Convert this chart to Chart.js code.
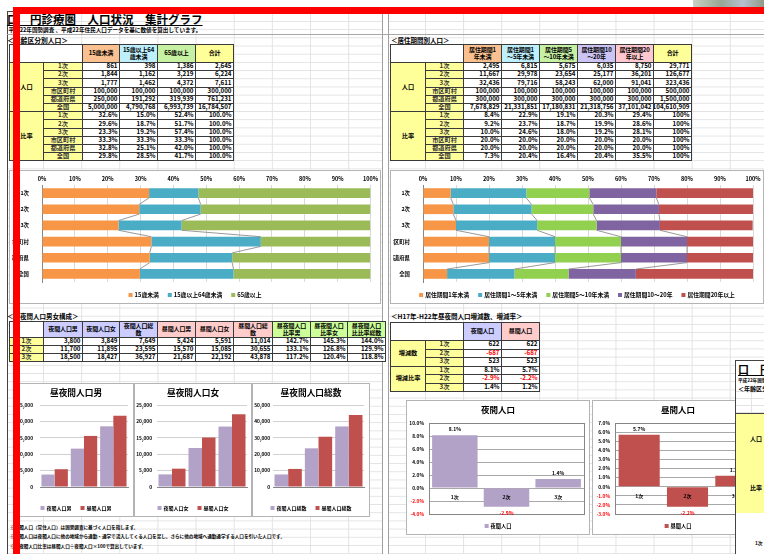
<!DOCTYPE html>
<html lang="ja">
<head>
<meta charset="utf-8">
<script src="https://cdn.jsdelivr.net/npm/chart.js@4.4.1/dist/chart.umd.min.js"></script>
<style>
html,body{margin:0;padding:0;}
body{width:764px;height:554px;overflow:hidden;position:relative;background:#fff;font-family:'Noto Sans CJK JP','Noto Sans',sans-serif;}
.a{position:absolute;}
.grid{position:absolute;background-image:linear-gradient(to right,#e3e3e3 1px,transparent 1px),linear-gradient(to bottom,#e3e3e3 1px,transparent 1px);}
.c{position:absolute;box-sizing:border-box;border:1px solid #3a3a3a;display:flex;align-items:center;font-weight:bold;font-size:6.2px;line-height:6.8px;overflow:hidden;white-space:pre-line;padding:0 1.5px;color:#000;}
.c.h{font-size:6px;letter-spacing:-0.15px;padding:0 0.5px;}
.frame{position:absolute;box-sizing:border-box;border:1px solid #b4b4b4;background:#fff;}
canvas{position:absolute;}
.t{position:absolute;white-space:nowrap;font-weight:bold;color:#000;}
.ov{z-index:10;}
</style>
</head>
<body>
<div class="grid" style="left:7px;top:11px;width:375px;height:543px;background-size:38.15px 100%,100% 8.2px;background-position:36px 0,0 1.8px"></div>
<div class="grid" style="left:388px;top:11px;width:376px;height:543px;background-size:38.1px 100%,100% 8.2px;background-position:37px 0,0 1.8px"></div>
<div class="a" style="left:7px;top:11px;width:1px;height:543px;background:#444"></div>
<div class="a" style="left:7px;top:11px;width:757px;height:1px;background:#444"></div>
<div class="a" style="left:7px;top:34px;width:757px;height:1px;background:#a8a8a8"></div>
<div class="a" style="left:382px;top:11px;width:1px;height:543px;background:#a0a0a0"></div>
<div class="a" style="left:388px;top:11px;width:1px;height:543px;background:#a0a0a0"></div>

<div class="t" style="left:7px;top:12px;font-size:11.5px;line-height:14px;text-decoration:underline;">口　円診療圏　人口状況　集計グラフ</div>
<div class="t" style="left:8.5px;top:27px;font-size:5.6px;line-height:6px;">平成22年国勢調査 、平成22年住民人口データを基に数値を算出しています。</div>
<div class="t" style="left:7px;top:36.5px;font-size:6.8px;line-height:7px;">＜年齢区分別人口＞</div>
<div class="t" style="left:391px;top:36.5px;font-size:6.5px;line-height:7px;">＜居住期間別人口＞</div>
<div class="t" style="left:7px;top:313px;font-size:6.5px;line-height:7px;">＜昼夜間人口男女構成＞</div>
<div class="t" style="left:391px;top:313px;font-size:6.5px;line-height:7px;">＜H17年-H22年昼夜間人口増減数、増減率＞</div>
<div class="t" style="left:10px;top:524.5px;font-size:4.6px;line-height:5px;">※夜間人口（常住人口）は国勢調査に基づく人口を指します。</div>
<div class="t" style="left:10px;top:534px;font-size:4.6px;line-height:5px;">※昼間人口は夜間人口に他の地域から通勤・通学で流入してくる人口を足し、さらに他の地域へ通勤通学する人口を引いた人口です。</div>
<div class="t" style="left:10px;top:543.5px;font-size:4.6px;line-height:5px;">※昼夜間人口比率は昼間人口÷夜間人口×100で算出しています。</div>

<!-- second window overlay -->
<div class="a ov" style="left:735px;top:360px;width:29px;height:194px;background:#fff;border-left:1px solid #444;border-top:1px solid #444;overflow:hidden;">
  <div class="grid" style="left:0;top:30px;width:40px;height:170px;background-size:20px 100%,100% 7px;background-position:15px 0,0 0"></div>
  <div class="t" style="left:2px;top:2px;font-size:11px;line-height:13px;text-decoration:underline;">口　円</div>
  <div class="t" style="left:2px;top:17px;font-size:4.6px;line-height:5px;">平成22年国勢調査</div>
  <div class="t" style="left:2px;top:24px;font-size:6px;line-height:7px;">＜年齢区分別人口＞</div>
  <div class="a" style="left:0;top:52px;width:40px;height:49px;background:#ffff99;border-top:1px solid #444;border-bottom:1px solid #444;font-weight:bold;font-size:6px;display:flex;align-items:center;justify-content:center;">人口</div>
  <div class="a" style="left:0;top:101px;width:40px;height:51px;background:#ffff99;border-bottom:1px solid #444;font-weight:bold;font-size:6px;display:flex;align-items:center;justify-content:center;">比率</div>
  <div class="a" style="left:0;top:152px;width:40px;height:42px;background:#fff;"></div>
  <div class="t" style="left:19px;top:179px;font-size:4.8px;line-height:5px;">1次</div>
</div>
<div class="a ov" style="left:693px;top:0;width:71px;height:7px;background:linear-gradient(90deg,#c9d1c2,#97a894 40%,#b7c0d0 70%,#8f9a86);"></div>
<div class="a ov" style="left:13px;top:7px;width:751px;height:7px;background:#ff0000"></div>
<div class="a ov" style="left:13px;top:7px;width:7px;height:547px;background:#ff0000"></div>

<script>
// ---------- data ----------
const rowCats = ['1次','2次','3次','市区町村','都道府県','全国'];
const ageGroups = ['15歳未満','15歳以上64歳未満','65歳以上'];
const ageHeaderText = ['15歳未満','15歳以上64\n歳未満','65歳以上','合計'];
const agePopUnder15 = [861,1844,1777,100000,250000,5000000];
const agePop15to64 = [398,1162,1462,100000,191292,4790768];
const agePop65over = [1386,3219,4372,100000,319939,6993739];
const agePopTotal = [2645,6224,7611,300000,761231,16784507];
const ageRatioUnder15 = [32.6,29.6,23.3,33.3,32.8,29.8];
const ageRatio15to64 = [15.0,18.7,19.2,33.3,25.1,28.5];
const ageRatio65over = [52.4,51.7,57.4,33.3,42.0,41.7];
const ageRatioTotal = [100,100,100,100,100,100];

const resGroups = ['居住期間1年未満','居住期間1～5年未満','居住期間5～10年未満','居住期間10～20年','居住期間20年以上'];
const resHeaderText = ['居住期間1\n年未満','居住期間1\n～5年未満','居住期間5\n～10年未満','居住期間10\n～20年','居住期間20\n年以上','合計'];
const resPop1 = [2495,11667,32436,100000,300000,7678829];
const resPop1to5 = [6815,29978,79716,100000,300000,21331851];
const resPop5to10 = [5675,23654,58243,100000,300000,17180831];
const resPop10to20 = [6035,25177,62000,100000,300000,21318756];
const resPop20 = [8750,36201,91041,100000,300000,37101042];
const resPopTotal = [29771,126677,323436,500000,1500000,104610909];
const resRatio1 = [8.4,9.2,10.0,20.0,20.0,7.3];
const resRatio1to5 = [22.9,23.7,24.6,20.0,20.0,20.4];
const resRatio5to10 = [19.1,18.7,18.0,20.0,20.0,16.4];
const resRatio10to20 = [20.3,19.9,19.2,20.0,20.0,20.4];
const resRatio20 = [29.4,28.6,28.1,20.0,20.0,35.5];
const resRatioTotal = [100,100,100,100,100,100];

const dnCats = ['1次','2次','3次'];
const dnHeaderText = ['夜間人口男','夜間人口女','夜間人口総\n数','昼間人口男','昼間人口女','昼間人口総\n数','昼夜間人口\n比率男','昼夜間人口\n比率女','昼夜間人口\n比比率総数'];
const nightMale = [3800,11700,18500];
const nightFemale = [3849,11895,18427];
const nightTotal = [7649,23595,36927];
const dayMale = [5424,15570,21687];
const dayFemale = [5591,15085,22192];
const dayTotal = [11014,30655,43878];
const ratioMale = [142.7,133.1,117.2];
const ratioFemale = [145.3,126.8,120.4];
const ratioTotal = [144.0,129.9,118.8];

const chgHeaderText = ['夜間人口','昼間人口'];
const chgGroups = ['増減数','増減比率'];
const changeNight = [622,-687,523];
const changeDay = [622,-687,523];
const changeRateNight = [8.1,-2.9,1.4];
const changeRateDay = [5.7,-2.2,1.2];

// ---------- styles ----------
const FONT = "'Noto Sans CJK JP','Noto Sans',sans-serif";
const YEL = '#ffff99';
const C_OR = '#F79646', C_AQ = '#4BACC6', C_OL = '#9BBB59', C_GR = '#92D050', C_PU = '#8064A2', C_RD = '#C0504D', C_LAV = '#B3A2C7';
const H_OR = '#FAC090', H_CY = '#BDEFFD', H_GR = '#C6F0A2', H_LV = '#CCC4F4', H_PK = '#FFC8CE', H_LV2 = '#CCCCFF', H_PK2 = '#FFCCCC', H_GR2 = '#CCFF99';

const fmtInt = v => v.toLocaleString('en-US');
const fmtPct1 = v => v.toFixed(1) + '%';

function cell(x,y,w,h,text,bg,align,color,cls){
  const d=document.createElement('div'); d.className='c'+(cls?' '+cls:'');
  d.style.left=x+'px'; d.style.top=y+'px'; d.style.width=(w+1)+'px'; d.style.height=(h+1)+'px';
  d.style.background=bg||'#fff';
  d.style.justifyContent = align==='r'?'flex-end':'center';
  d.style.textAlign = align==='r'?'right':'center';
  if(color) d.style.color=color;
  d.textContent=text;
  document.body.appendChild(d);
}

// ---------- table 1 ----------
(function(){
  const X=[9,43,82,119,157,195,233], hy=44, hh=18, y0=62, rh=8.2;
  cell(X[0],hy,X[2]-X[0],hh,'','#fff');
  const hc=[H_OR,H_CY,H_GR,YEL];
  ageHeaderText.forEach((h,j)=>cell(X[j+2],hy,X[j+3]-X[j+2],hh,h,hc[j],'c',null,'h'));
  cell(X[0],y0,X[1]-X[0],6*rh,'人口',YEL);
  cell(X[0],y0+6*rh,X[1]-X[0],6*rh,'比率',YEL);
  const pc=[agePopUnder15,agePop15to64,agePop65over,agePopTotal];
  const rc=[ageRatioUnder15,ageRatio15to64,ageRatio65over,ageRatioTotal];
  rowCats.forEach((r,i)=>{
    const y=y0+i*rh, y2=y0+(i+6)*rh;
    cell(X[1],y,X[2]-X[1],rh,r,YEL,'c','#333');
    cell(X[1],y2,X[2]-X[1],rh,r,YEL,'c','#333');
    pc.forEach((col,j)=>cell(X[j+2],y,X[j+3]-X[j+2],rh,fmtInt(col[i]),'#fff','r'));
    rc.forEach((col,j)=>cell(X[j+2],y2,X[j+3]-X[j+2],rh,fmtPct1(col[i]),'#fff','r'));
  });
})();

// ---------- table 2 ----------
(function(){
  const X=[390,425,463,501,539,577,615,653,691], hy=44, hh=18, y0=62, rh=8.2;
  cell(X[0],hy,X[2]-X[0],hh,'','#fff');
  const hc=[H_OR,H_CY,H_GR,H_LV,H_PK,YEL];
  resHeaderText.forEach((h,j)=>cell(X[j+2],hy,X[j+3]-X[j+2],hh,h,hc[j],'c',null,'h'));
  cell(X[0],y0,X[1]-X[0],6*rh,'人口',YEL);
  cell(X[0],y0+6*rh,X[1]-X[0],6*rh,'比率',YEL);
  const pc=[resPop1,resPop1to5,resPop5to10,resPop10to20,resPop20,resPopTotal];
  const rc=[resRatio1,resRatio1to5,resRatio5to10,resRatio10to20,resRatio20,resRatioTotal];
  rowCats.forEach((r,i)=>{
    const y=y0+i*rh, y2=y0+(i+6)*rh;
    cell(X[1],y,X[2]-X[1],rh,r,YEL,'c','#333');
    cell(X[1],y2,X[2]-X[1],rh,r,YEL,'c','#333');
    pc.forEach((col,j)=>cell(X[j+2],y,X[j+3]-X[j+2],rh,fmtInt(col[i]),'#fff','r'));
    rc.forEach((col,j)=>cell(X[j+2],y2,X[j+3]-X[j+2],rh,j===5?col[i]+'%':fmtPct1(col[i]),'#fff','r'));
  });
})();

// ---------- table 3 ----------
(function(){
  const X=[9,43,82,119,157,195,233,272,310,347,385], hy=321, hh=16, y0=337, rh=8;
  cell(X[0],hy,X[1]-X[0],hh,'','#fff');
  const hc=[H_LV2,H_LV2,H_LV2,H_PK2,H_PK2,H_PK2,H_GR2,H_GR2,H_GR2];
  dnHeaderText.forEach((h,j)=>cell(X[j+1],hy,X[j+2]-X[j+1],hh,h,hc[j],'c',null,'h'));
  const cols=[nightMale,nightFemale,nightTotal,dayMale,dayFemale,dayTotal,ratioMale,ratioFemale,ratioTotal];
  dnCats.forEach((r,i)=>{
    const y=y0+i*rh;
    cell(X[0],y,X[1]-X[0],rh,r,YEL,'c','#333');
    cols.forEach((col,j)=>cell(X[j+1],y,X[j+2]-X[j+1],rh,j<6?fmtInt(col[i]):fmtPct1(col[i]),'#fff','r'));
  });
})();

// ---------- table 4 ----------
(function(){
  const X=[390,425,463,501,539], hy=322, hh=18, y0=340, rh=8.5;
  cell(X[0],hy,X[2]-X[0],hh,'','#fff');
  const hc=[H_LV2,H_PK2];
  chgHeaderText.forEach((h,j)=>cell(X[j+2],hy,X[j+3]-X[j+2],hh,h,hc[j],'c',null,'h'));
  cell(X[0],y0,X[1]-X[0],3*rh,chgGroups[0],YEL);
  cell(X[0],y0+3*rh,X[1]-X[0],3*rh,chgGroups[1],YEL);
  const cc=[changeNight,changeDay], rc=[changeRateNight,changeRateDay];
  dnCats.forEach((r,i)=>{
    const y=y0+i*rh, y2=y0+(i+3)*rh;
    cell(X[1],y,X[2]-X[1],rh,r,YEL,'c','#333');
    cell(X[1],y2,X[2]-X[1],rh,r,YEL,'c','#333');
    cc.forEach((col,j)=>cell(X[j+2],y,X[j+3]-X[j+2],rh,fmtInt(col[i]),'#fff','r',col[i]<0?'#ff0000':'#000'));
    rc.forEach((col,j)=>cell(X[j+2],y2,X[j+3]-X[j+2],rh,fmtPct1(col[i]),'#fff','r',col[i]<0?'#ff0000':'#000'));
  });
})();

// ---------- chart plugins ----------
Chart.defaults.font.family = FONT;
Chart.defaults.font.weight = 'bold';
Chart.defaults.color = '#000';

const decoPlugin = {
  id:'deco',
  afterDraw(chart, args, opts){
    const ctx=chart.ctx; ctx.save();
    if(opts.titleText){
      ctx.font=`bold ${opts.titleSize}px ${FONT}`; ctx.fillStyle='#000';
      ctx.textAlign='center'; ctx.textBaseline='middle';
      ctx.fillText(opts.titleText, chart.width/2, opts.titleY);
    }
    if(opts.legendY){
      const ds=chart.data.datasets;
      ctx.font=`bold ${opts.legendSize}px ${FONT}`;
      const box=opts.legendBox||4, gap=2, sep=opts.legendSep||8;
      const widths=ds.map(d=>box+gap+ctx.measureText(d.label).width);
      const total=widths.reduce((a,b)=>a+b,0)+sep*(ds.length-1);
      let x=chart.width/2-total/2;
      ds.forEach((d,i)=>{
        ctx.fillStyle=d.backgroundColor;
        ctx.fillRect(x, opts.legendY-box/2, box, box);
        ctx.fillStyle='#000'; ctx.textAlign='left'; ctx.textBaseline='middle';
        ctx.fillText(d.label, x+box+gap, opts.legendY);
        x+=widths[i]+sep;
      });
    }
    ctx.restore();
  }
};
const seriesLines = {
  id:'seriesLines',
  afterDatasetsDraw(chart, args, opts){
    if(!opts.enabled) return;
    const ctx=chart.ctx; ctx.save(); ctx.strokeStyle='#7f7f7f'; ctx.lineWidth=0.8;
    const n=chart.data.datasets.length;
    for(let di=0; di<n-1; di++){
      const meta=chart.getDatasetMeta(di);
      for(let i=0;i<meta.data.length-1;i++){
        const a=meta.data[i], b=meta.data[i+1];
        ctx.beginPath(); ctx.moveTo(a.x, a.y+a.height/2); ctx.lineTo(b.x, b.y-b.height/2); ctx.stroke();
      }
    }
    ctx.restore();
  }
};
const plotBox = {
  id:'plotBox',
  afterDatasetsDraw(chart, args, opts){
    if(!opts.enabled) return;
    const a=chart.chartArea, ctx=chart.ctx; ctx.save();
    ctx.strokeStyle='#868686'; ctx.lineWidth=1;
    ctx.strokeRect(Math.round(a.left)+0.5, Math.round(a.top)+0.5, Math.round(a.right-a.left), Math.round(a.bottom-a.top));
    ctx.restore();
  }
};
const zeroLabels = {
  id:'zeroLabels',
  afterDatasetsDraw(chart, args, opts){
    if(!opts.enabled) return;
    const ctx=chart.ctx, y0=chart.scales.y.getPixelForValue(0);
    const meta=chart.getDatasetMeta(0), vals=chart.data.datasets[0].data;
    ctx.save();
    ctx.font=`bold ${opts.size}px ${FONT}`; ctx.textAlign='center'; ctx.textBaseline='middle';
    meta.data.forEach((el,i)=>{
      ctx.fillStyle='#000';
      ctx.fillText(chart.data.labels[i], el.x, y0+opts.catOffset);
      const v=vals[i];
      ctx.fillStyle=v<0?'#ff0000':'#000';
      ctx.fillText(v.toFixed(1)+'%', el.x, v<0 ? el.y+opts.valOffset : el.y-opts.valOffset);
    });
    ctx.restore();
  }
};
Chart.register(decoPlugin, seriesLines, plotBox, zeroLabels);

function mk(x,y,w,h,cfg){
  const f=document.createElement('div'); f.className='frame';
  Object.assign(f.style,{left:x+'px',top:y+'px',width:w+'px',height:h+'px'});
  document.body.appendChild(f);
  const c=document.createElement('canvas'); c.width=w; c.height=h;
  Object.assign(c.style,{left:x+'px',top:y+'px',width:w+'px',height:h+'px'});
  document.body.appendChild(c);
  cfg.options.responsive=false; cfg.options.animation=false; cfg.options.devicePixelRatio=1;
  return new Chart(c,cfg);
}

function stackedCfg(series, colors, padR){
  return {
    type:'bar',
    data:{labels:rowCats, datasets:series.map((s,i)=>({label:s[0], data:s[1], backgroundColor:colors[i], borderWidth:0, barPercentage:0.6, categoryPercentage:1}))},
    options:{
      indexAxis:'y',
      layout:{padding:{left:3,top:3,right:padR,bottom:22}},
      plugins:{legend:{display:false}, tooltip:{enabled:false},
        deco:{legendY:125, legendSize:5.8, legendBox:4, legendSep:9},
        seriesLines:{enabled:true}},
      scales:{
        x:{stacked:true, position:'top', min:0, max:100,
           ticks:{stepSize:10, callback:v=>v+'%', font:{size:5.5,weight:'bold'}, padding:3, maxRotation:0, autoSkip:false, color:'#000'},
           grid:{color:'#d9d9d9', drawTicks:false}, border:{display:false},
           afterFit:s=>{s.height=12;}},
        y:{stacked:true, ticks:{font:{size:5.4,weight:'bold'}, padding:5, color:'#000', autoSkip:false},
           grid:{display:false}, border:{color:'#868686'},
           afterFit:s=>{s.width=30;}}
      }
    }
  };
}

mk(9,170,372,134, stackedCfg(
  [[ageGroups[0],ageRatioUnder15],[ageGroups[1],ageRatio15to64],[ageGroups[2],ageRatio65over]],
  [C_OR,C_AQ,C_OL], 10));
mk(390,170,374,134, stackedCfg(
  [[resGroups[0],resRatio1],[resGroups[1],resRatio1to5],[resGroups[2],resRatio5to10],[resGroups[3],resRatio10to20],[resGroups[4],resRatio20]],
  [C_OR,C_AQ,C_GR,C_PU,C_RD], 11));

function colCfg(title, night, day, nightLabel, dayLabel, max, yW, tickPad, padR){
  return {
    type:'bar',
    data:{labels:dnCats, datasets:[
      {label:nightLabel, data:night, backgroundColor:C_LAV, categoryPercentage:0.9, barPercentage:1},
      {label:dayLabel, data:day, backgroundColor:C_RD, categoryPercentage:0.9, barPercentage:1}]},
    options:{
      layout:{padding:{left:0,top:22,right:padR,bottom:16}},
      plugins:{legend:{display:false}, tooltip:{enabled:false},
        deco:{titleText:title, titleY:10, titleSize:8.7, legendY:125, legendSize:5, legendBox:4, legendSep:9}},
      scales:{
        x:{grid:{display:false}, border:{color:'#868686'},
           ticks:{font:{size:5,weight:'bold'}, padding:6, color:'#000'},
           afterFit:s=>{s.height=14;}},
        y:{min:0, max:max,
           ticks:{stepSize:5000, callback:v=>v.toLocaleString('en-US'), font:{size:4.8,weight:'bold'}, padding:tickPad, color:'#000'},
           grid:{color:'#d0d0d0', drawTicks:false}, border:{display:false},
           afterFit:s=>{s.width=yW;}}
      }
    }
  };
}
mk(18,383,116,134, colCfg('昼夜間人口男', nightMale, dayMale, '夜間人口男', '昼間人口男', 25000, 22, 7, 6));
mk(134,383,118,134, colCfg('昼夜間人口女', nightFemale, dayFemale, '夜間人口女', '昼間人口女', 25000, 23, 5, 5));
mk(252,383,118,134, colCfg('昼夜間人口総数', nightTotal, dayTotal, '夜間人口総数', '昼間人口総数', 50000, 21, 3, 6));

function rateCfg(title, data, label, color, min, max, step, barPct, padR){
  return {
    type:'bar',
    data:{labels:dnCats, datasets:[{label:label, data:data, backgroundColor:color, barPercentage:barPct, categoryPercentage:1}]},
    options:{
      layout:{padding:{left:0,top:23,right:padR,bottom:21}},
      plugins:{legend:{display:false}, tooltip:{enabled:false},
        deco:{titleText:title, titleY:10, titleSize:8.5, legendY:126, legendSize:5.2, legendBox:4},
        zeroLabels:{enabled:true, size:5, catOffset:9, valOffset:6},
        plotBox:{enabled:true}},
      scales:{
        x:{display:false},
        y:{min:min, max:max,
           ticks:{stepSize:step, callback:v=>v.toFixed(1)+'%', color:c=>c.tick.value<0?'#ff0000':'#000', font:{size:4.8,weight:'bold'}, padding:5},
           grid:{color:'#a8a8a8', drawTicks:false}, border:{display:false},
           afterFit:s=>{s.width=23;}}
      }
    }
  };
}
mk(406,400,184,135, rateCfg('夜間人口', changeRateNight, '夜間人口', C_LAV, -4, 10, 2, 0.88, 6));
mk(592,400,172,135, rateCfg('昼間人口', changeRateDay, '昼間人口', C_RD, -3, 7, 1, 0.85, 4));
</script>
</body>
</html>
